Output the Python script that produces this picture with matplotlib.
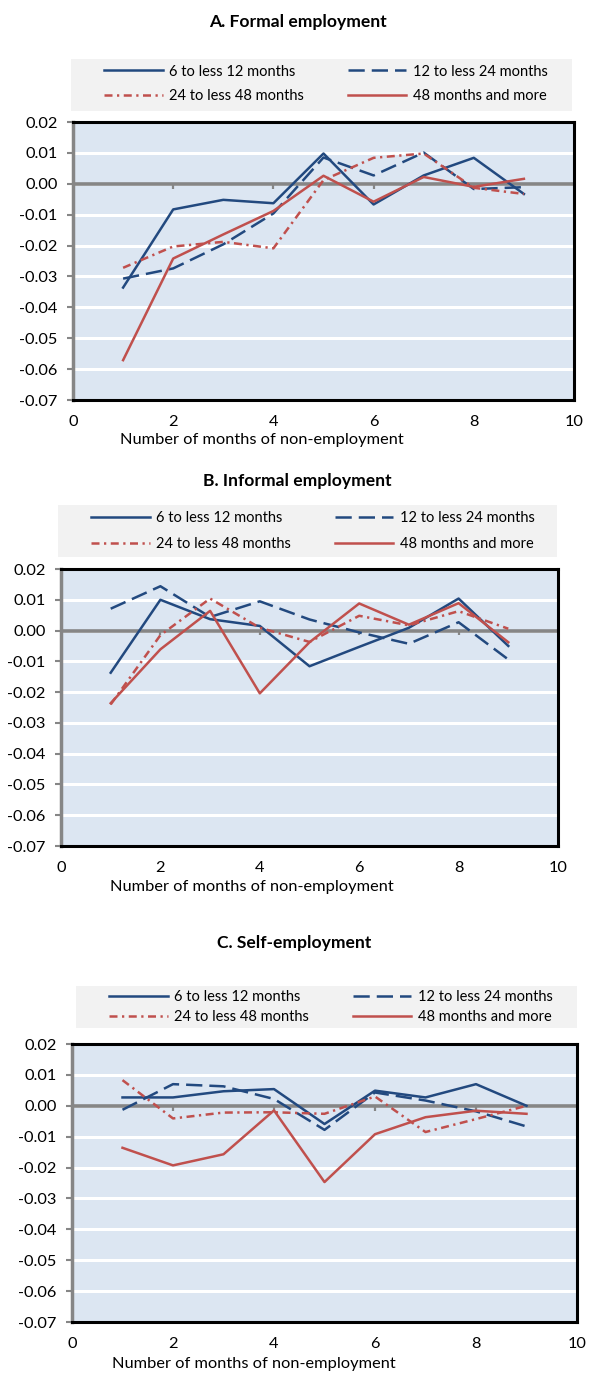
import matplotlib
matplotlib.use("Agg")
import matplotlib.pyplot as plt
from matplotlib.patches import Rectangle

plt.rcParams['font.family'] = ['Lato', 'DejaVu Sans']
plt.rcParams['axes.unicode_minus'] = False

# Months of non-employment
months = [1, 2, 3, 4, 5, 6, 7, 8, 9]

series_names = ["6 to less 12 months", "12 to less 24 months",
                "24 to less 48 months", "48 months and more"]

# A. Formal employment
formal_6_12 = [-0.0336, -0.0083, -0.0052, -0.0063, 0.0098, -0.0067, 0.0027, 0.0084, -0.0033]
formal_12_24 = [-0.0307, -0.0274, -0.0196, -0.0096, 0.0085, 0.0027, 0.0101, -0.0017, -0.0011]
formal_24_48 = [-0.0272, -0.0203, -0.0188, -0.0209, 0.0012, 0.0084, 0.0098, -0.0013, -0.0033]
formal_48p = [-0.0571, -0.0242, -0.0164, -0.0088, 0.0026, -0.0058, 0.0022, -0.0010, 0.0016]

# B. Informal employment
informal_6_12 = [-0.0137, 0.0100, 0.0037, 0.0015, -0.0116, -0.0053, 0.0009, 0.0104, -0.0050]
informal_12_24 = [0.0071, 0.0144, 0.0044, 0.0095, 0.0036, -0.0006, -0.0043, 0.0027, -0.0094]
informal_24_48 = [-0.0240, -0.0015, 0.0104, 0.0009, -0.0037, 0.0048, 0.0017, 0.0063, 0.0006]
informal_48p = [-0.0236, -0.0061, 0.0064, -0.0204, -0.0038, 0.0088, 0.0019, 0.0089, -0.0038]

# C. Self-employment
self_6_12 = [0.0027, 0.0027, 0.0047, 0.0054, -0.0059, 0.0049, 0.0027, 0.0070, 0.0000]
self_12_24 = [-0.0013, 0.0070, 0.0063, 0.0022, -0.0078, 0.0043, 0.0017, -0.0018, -0.0067]
self_24_48 = [0.0083, -0.0041, -0.0022, -0.0021, -0.0026, 0.0030, -0.0085, -0.0043, 0.0000]
self_48p = [-0.0136, -0.0193, -0.0157, -0.0015, -0.0247, -0.0092, -0.0037, -0.0016, -0.0026]

panel_titles = ["A. Formal employment", "B. Informal employment", "C. Self-employment"]
x_label = "Number of months of non-employment"
y_ticks = [0.02, 0.01, 0.0, -0.01, -0.02, -0.03, -0.04, -0.05, -0.06, -0.07]
x_ticks = [0, 2, 4, 6, 8, 10]

W, H = 597, 1373
fig = plt.figure(figsize=(W / 100, H / 100), dpi=100)
fig.patch.set_facecolor("white")

BLUE = "#22497F"
RED = "#C0504D"
GRAY = "#868686"
styles = [
    dict(color=BLUE, linestyle="-"),
    dict(color=BLUE, linestyle=(0, (6.5, 2.8))),
    dict(color=RED, linestyle=(0, (3.2, 1.8, 0.9, 1.8))),
    dict(color=RED, linestyle="-"),
]

panels = [
    dict(data=[formal_6_12, formal_12_24, formal_24_48, formal_48p],
         ax=(73, 122, 574, 400), title=(298, 22), leg=(71, 59, 572, 111),
         legc=(326, 84), legsp=0.75, xlab=(262, 440)),
    dict(data=[informal_6_12, informal_12_24, informal_24_48, informal_48p],
         ax=(61, 569, 558, 846), title=(297, 481), leg=(58, 505, 557, 557),
         legc=(313, 531), legsp=0.8, xlab=(252, 887)),
    dict(data=[self_6_12, self_12_24, self_24_48, self_48p],
         ax=(72, 1044, 577, 1322), title=(294, 943), leg=(76, 986, 577, 1028),
         legc=(331, 1007), legsp=0.45, xlab=(254, 1364)),
]

for p, name in zip(panels, panel_titles):
    l, t, r, b = p["ax"]
    ax = fig.add_axes([l / W, 1 - b / H, (r - l) / W, (b - t) / H])
    ax.set_facecolor("#DCE6F2")
    ax.set_xlim(0, 10)
    ax.set_ylim(-0.07, 0.02)
    ax.set_yticks(y_ticks)
    ax.set_yticklabels([f"{v:.2f}" for v in y_ticks])
    ax.set_xticks(x_ticks)
    ax.tick_params(axis="x", length=0, pad=11, labelsize=11.8)
    ax.tick_params(axis="y", length=4, width=1.5, color=GRAY, pad=7, labelsize=11.8)
    ax.grid(axis="y", color="white", linewidth=2.2)
    ax.set_axisbelow(True)
    for side in ("top", "right", "bottom"):
        ax.spines[side].set_color("black")
        ax.spines[side].set_linewidth(2.2)
    ax.spines["left"].set_color(GRAY)
    ax.spines["left"].set_linewidth(2.5)

    # horizontal category axis crossing at zero, with small tick marks
    ax.axhline(0, color=GRAY, linewidth=2.6, zorder=2)
    ax.vlines(x_ticks[1:-1], -0.0016, 0, color=GRAY, linewidth=1.6, zorder=2)

    handles = []
    for vals, st in zip(p["data"], styles):
        h, = ax.plot(months, vals, linewidth=1.8, zorder=3, **st)
        handles.append(h)

    # panel title
    tx, ty = p["title"]
    fig.text(tx / W, 1 - ty / H, name, ha="center", va="center",
             fontsize=12.6, fontweight="bold")

    # legend on a light gray band above the plot
    gl, gt, gr, gb = p["leg"]
    fig.patches.append(Rectangle((gl / W, 1 - gb / H), (gr - gl) / W, (gb - gt) / H,
                                 transform=fig.transFigure, facecolor="#F2F2F2",
                                 edgecolor="none", zorder=0))
    order = [0, 2, 1, 3]
    cx, cy = p["legc"]
    fig.legend([handles[i] for i in order], [series_names[i] for i in order],
               ncol=2, loc="center", bbox_to_anchor=(cx / W, 1 - cy / H),
               frameon=False, fontsize=10.5, handlelength=4.0, handletextpad=0.45,
               columnspacing=3.0, labelspacing=p["legsp"], borderpad=0.2)

    xx, xy = p["xlab"]
    fig.text(xx / W, 1 - xy / H, x_label, ha="center", va="center", fontsize=11.8)

fig.savefig("out.png", dpi=100)
